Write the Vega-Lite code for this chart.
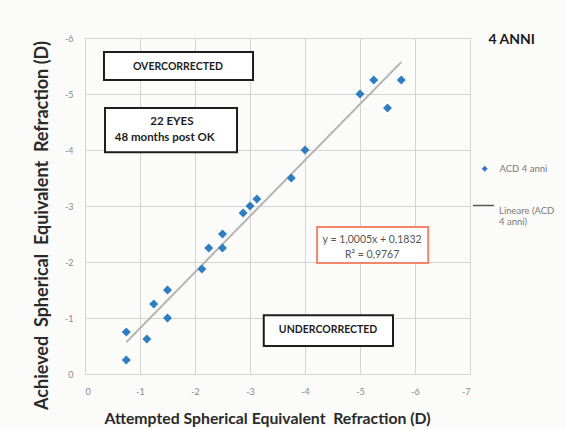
{
  "$schema": "https://vega.github.io/schema/vega-lite/v6.json",
  "width": 385,
  "height": 336,
  "autosize": {"type": "none"},
  "padding": {"left": 85, "top": 38, "right": 96, "bottom": 55},
  "background": "#fbfbf9",
  "config": {
    "font": "Lato",
    "view": {"stroke": "#d4d4d4", "strokeWidth": 1}
  },
  "title": {
    "text": "4 ANNI",
    "anchor": "end",
    "frame": "group",
    "dx": 65,
    "dy": 17,
    "font": "Lato",
    "fontSize": 14,
    "fontWeight": "bold",
    "color": "#1a1a1a"
  },
  "datasets": {
    "points": [
      {"x": -0.75, "y": -0.75, "series": "ACD 4 anni"},
      {"x": -0.75, "y": -0.25, "series": "ACD 4 anni"},
      {"x": -1.125, "y": -0.625, "series": "ACD 4 anni"},
      {"x": -1.25, "y": -1.25, "series": "ACD 4 anni"},
      {"x": -1.5, "y": -1.5, "series": "ACD 4 anni"},
      {"x": -1.5, "y": -1.0, "series": "ACD 4 anni"},
      {"x": -2.125, "y": -1.875, "series": "ACD 4 anni"},
      {"x": -2.25, "y": -2.25, "series": "ACD 4 anni"},
      {"x": -2.5, "y": -2.25, "series": "ACD 4 anni"},
      {"x": -2.5, "y": -2.5, "series": "ACD 4 anni"},
      {"x": -2.875, "y": -2.875, "series": "ACD 4 anni"},
      {"x": -3.0, "y": -3.0, "series": "ACD 4 anni"},
      {"x": -3.125, "y": -3.125, "series": "ACD 4 anni"},
      {"x": -3.75, "y": -3.5, "series": "ACD 4 anni"},
      {"x": -4.0, "y": -4.0, "series": "ACD 4 anni"},
      {"x": -5.0, "y": -5.0, "series": "ACD 4 anni"},
      {"x": -5.25, "y": -5.25, "series": "ACD 4 anni"},
      {"x": -5.5, "y": -4.75, "series": "ACD 4 anni"},
      {"x": -5.75, "y": -5.25, "series": "ACD 4 anni"}
    ],
    "trend": [
      {"x": -0.75, "y": -0.567, "series": "Lineare (ACD 4 anni)"},
      {"x": -5.75, "y": -5.57, "series": "Lineare (ACD 4 anni)"}
    ],
    "boxes": [
      {"x": -0.345, "x2": -3.055, "y": -5.75, "y2": -5.25},
      {"x": -0.364, "x2": -2.764, "y": -4.75, "y2": -3.96},
      {"x": -3.25, "x2": -5.6, "y": -1.05, "y2": -0.5}
    ],
    "eqbox": [
      {"x": -4.22, "x2": -6.24, "y": -2.625, "y2": -1.98}
    ],
    "capslabels": [
      {"x": -1.69, "y": -5.49, "text": "OVERCORRECTED"},
      {"x": -4.42, "y": -0.79, "text": "UNDERCORRECTED"}
    ],
    "labels": [
      {"x": -1.58, "y": -4.5, "text": "22 EYES"},
      {"x": -1.45, "y": -4.21, "text": "48 months post OK"}
    ],
    "eqlabels": [
      {"x": -5.22, "y": -2.39, "text": "y = 1,0005x + 0,1832"},
      {"x": -5.22, "y": -2.12, "text": "R² = 0,9767"}
    ]
  },
  "encoding": {
    "x": {
      "field": "x",
      "type": "quantitative",
      "scale": {"domain": [0, -7], "nice": false, "zero": false},
      "axis": {
        "title": "Attempted Spherical Equivalent\u00a0\u00a0Refraction (D)",
        "values": [0, -1, -2, -3, -4, -5, -6, -7],
        "labelExpr": "toString(datum.value)",
        "domain": false,
        "ticks": false,
        "grid": true,
        "gridColor": "#d4d4d4",
        "labelColor": "#8a8a8a",
        "labelFontSize": 9,
        "labelPadding": 13,
        "titleFont": "Lato",
        "titleFontSize": 15.8,
        "titleFontWeight": "bold",
        "titleColor": "#2a2a2a",
        "titlePadding": 15,
        "titleX": 182
      }
    },
    "y": {
      "field": "y",
      "type": "quantitative",
      "scale": {"domain": [0, -6], "nice": false, "zero": false},
      "axis": {
        "title": "Achieved\u00a0\u00a0Spherical\u00a0\u00a0Equivalent\u00a0\u00a0Refraction (D)",
        "values": [0, -1, -2, -3, -4, -5, -6],
        "labelExpr": "toString(datum.value)",
        "domain": false,
        "ticks": false,
        "grid": true,
        "gridColor": "#d4d4d4",
        "labelColor": "#8a8a8a",
        "labelFontSize": 9,
        "labelPadding": 12,
        "titleFont": "Lato",
        "titleFontSize": 18,
        "titleFontWeight": "bold",
        "titleColor": "#2a2a2a",
        "titlePadding": 13,
        "titleY": 187
      }
    }
  },
  "layer": [
    {
      "data": {"name": "trend"},
      "mark": {"type": "line", "strokeWidth": 2, "color": "#b5b5b5"},
      "encoding": {
        "strokeDash": {
          "field": "series",
          "type": "nominal",
          "scale": {"domain": ["Lineare (ACD 4 anni)"], "range": [[1, 0]]},
          "legend": {
            "title": null,
            "orient": "none",
            "legendX": 387,
            "legendY": 156,
            "symbolType": "stroke",
            "symbolSize": 441,
            "symbolStrokeColor": "#555555",
            "symbolStrokeWidth": 1.3,
            "labelFont": "Lato",
            "labelFontSize": 9.5,
            "labelColor": "#7a7a7a",
            "labelOffset": 4,
            "labelBaseline": "top",
            "labelExpr": "['Lineare (ACD', '4 anni)']"
          }
        }
      }
    },
    {
      "data": {"name": "boxes"},
      "mark": {"type": "rect", "fill": "white", "stroke": "#1e1e1e", "strokeWidth": 2},
      "encoding": {
        "x2": {"field": "x2"},
        "y2": {"field": "y2"}
      }
    },
    {
      "data": {"name": "eqbox"},
      "mark": {"type": "rect", "fill": "white", "stroke": "#f0876a", "strokeWidth": 2},
      "encoding": {
        "x2": {"field": "x2"},
        "y2": {"field": "y2"}
      }
    },
    {
      "data": {"name": "capslabels"},
      "mark": {"type": "text", "font": "Lato", "fontSize": 10.5, "fontWeight": "bold", "align": "center", "baseline": "middle", "color": "#1e1e1e"},
      "encoding": {"text": {"field": "text"}}
    },
    {
      "data": {"name": "labels"},
      "mark": {"type": "text", "font": "Lato", "fontSize": 11.5, "fontWeight": "bold", "align": "center", "baseline": "middle", "color": "#1e1e1e"},
      "encoding": {"text": {"field": "text"}}
    },
    {
      "data": {"name": "eqlabels"},
      "mark": {"type": "text", "font": "Lato", "fontSize": 10.5, "align": "center", "baseline": "middle", "color": "#555555"},
      "encoding": {"text": {"field": "text"}}
    },
    {
      "data": {"name": "points"},
      "mark": {"type": "point", "shape": "diamond", "filled": true, "size": 80, "opacity": 1},
      "encoding": {
        "color": {
          "field": "series",
          "type": "nominal",
          "scale": {"domain": ["ACD 4 anni"], "range": ["#2f7dc1"]},
          "legend": {
            "title": null,
            "orient": "none",
            "legendX": 395,
            "legendY": 126,
            "symbolType": "diamond",
            "symbolSize": 36,
            "labelFont": "Lato",
            "labelFontSize": 9.5,
            "labelColor": "#7a7a7a",
            "labelOffset": 10
          }
        }
      }
    }
  ]
}
